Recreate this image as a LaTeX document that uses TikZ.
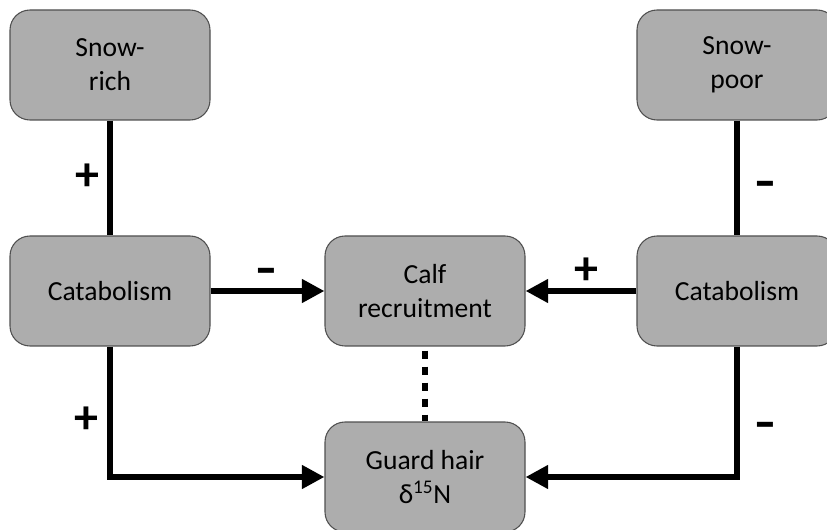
\documentclass[tikz,border=0pt]{standalone}
\usepackage{fontspec}
\setmainfont{Carlito}
\usetikzlibrary{arrows.meta,positioning}
\definecolor{boxgray}{RGB}{173,173,173}
\definecolor{boxedge}{RGB}{80,80,80}

\begin{document}
\begin{tikzpicture}[
    x=0.75pt, y=-0.75pt,
    box/.style={rectangle, rounded corners=15pt, draw=boxedge, line width=0.8pt, fill=boxgray, minimum width=150pt, minimum height=82.5pt, align=center, inner sep=0pt, font=\fontsize{20.7}{25.5}\selectfont},
    link/.style={line width=5pt, black},
    arrow/.style={link, -{Triangle[length=17pt, width=17pt]}},
    sign/.style={inner sep=0pt, text height=0.55em, text depth=0pt, font=\fontsize{36}{36}\selectfont\bfseries}
]
\useasboundingbox (0,0) rectangle (827,530);
\clip (0,0) rectangle (827,530);

% the six boxes
\node[box] (snowrich) at (110,65) {Snow-\\rich};
\node[box] (snowpoor) at (737,65) {Snow-\\poor};
\node[box] (catrich) at (110,291) {Catabolism};
\node[box] (calf) at (425,291) {Calf\\recruitment};
\node[box] (catpoor) at (737,291) {Catabolism};
\node[box] (hair) at (425,477) {Guard hair\\δ\textsuperscript{15}N};

% links
\draw[link] (snowrich) -- (catrich) node[sign, midway, xshift=-17pt, yshift=-7pt] {+};
\draw[link] (snowpoor) -- (catpoor) node[sign, midway, xshift=21pt, yshift=-12pt] {\scalebox{1.35}[1]{-}};
\draw[arrow] (catrich) -- (calf) node[sign, midway, xshift=-1pt, yshift=7.5pt] {\scalebox{1.35}[1]{-}};
\draw[arrow] (catpoor) -- (calf) node[sign, midway, xshift=4pt, yshift=7.5pt] {+};
\draw[link, dash pattern=on 6pt off 6pt, dash phase=9pt] (calf) -- (hair);
\draw[arrow] (catrich) |- (hair) node[sign, pos=0.25, xshift=-18pt, yshift=-13.5pt] {+};
\draw[arrow] (catpoor) |- (hair) node[sign, pos=0.25, xshift=21pt, yshift=-17pt] {\scalebox{1.35}[1]{-}};

\end{tikzpicture}
\end{document}
